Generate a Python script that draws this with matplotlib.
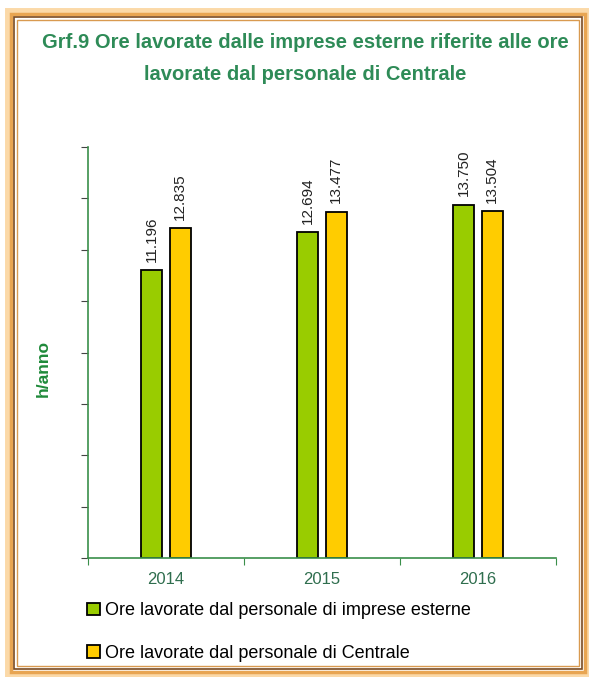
import matplotlib.pyplot as plt
from matplotlib.patches import Rectangle
import numpy as np

years = ["2014", "2015", "2016"]
esterne = [11196, 12694, 13750]
centrale = [12835, 13477, 13504]
labels_esterne = ["11.196", "12.694", "13.750"]
labels_centrale = ["12.835", "13.477", "13.504"]

green = "#99cc00"
yellow = "#ffcc00"
axis_green = "#3a8f4a"
text_green = "#2e8b57"

plt.rcParams["font.family"] = ["Liberation Sans", "DejaVu Sans"]

fig = plt.figure(figsize=(5.89, 6.77), dpi=100)
W, H = 589, 677

# frame
def px(x0, y0, x1, y1):
    return (x0 / W, 1 - y1 / H), (x1 - x0) / W, (y1 - y0) / H

for (x0, y0, x1, y1, lw, col) in [
    (8, 11, 588, 675, 5, "#fbd9a8"),
    (11, 14, 585, 672, 2.5, "#e8a552"),
    (14, 17, 582, 669, 1.2, "#7a4a20"),
    (17, 20, 579, 666, 1.0, "#d99a50"),
]:
    xy, w, h = px(x0, y0, x1, y1)
    fig.patches.append(Rectangle(xy, w, h, transform=fig.transFigure,
                                 fill=False, edgecolor=col, linewidth=lw))

ax = fig.add_axes([88 / W, 1 - 558 / H, (556 - 88) / W, (558 - 147) / H])
x = np.arange(len(years))
bw = 0.135
gap = 0.045
b1 = ax.bar(x - (bw + gap) / 2, esterne, bw, color=green, edgecolor="black", linewidth=1.3)
b2 = ax.bar(x + (bw + gap) / 2, centrale, bw, color=yellow, edgecolor="black", linewidth=1.3)

for bars, labs in [(b1, labels_esterne), (b2, labels_centrale)]:
    for rect, lab in zip(bars, labs):
        ax.annotate(lab, (rect.get_x() + rect.get_width() / 2, rect.get_height()),
                    xytext=(0, 6), textcoords="offset points", rotation=90,
                    ha="center", va="bottom", fontsize=11, color="#222222")

ax.set_xlim(-0.5, 2.5)
ax.set_ylim(0, 16000)
ax.set_yticks(np.arange(0, 16001, 2000))
ax.set_yticklabels([])
ax.set_xticks([-0.5, 0.5, 1.5, 2.5], minor=False)
ax.set_xticklabels([])
ax.set_xticks(x, minor=True)
ax.set_xticklabels(years, minor=True, fontsize=12, color="#2f6e4e")
ax.tick_params(axis="x", which="minor", length=0, pad=10)
ax.tick_params(axis="x", which="major", length=5, color=axis_green, direction="out")
ax.tick_params(axis="y", length=5, color="#444444", direction="out")
for s in ["top", "right"]:
    ax.spines[s].set_visible(False)
for s in ["left", "bottom"]:
    ax.spines[s].set_color(axis_green)
    ax.spines[s].set_linewidth(1.2)

ax.set_ylabel("h/anno", fontsize=12.5, fontweight="bold", color="#1f8a3a")
ax.yaxis.set_label_coords(-0.08, 0.46)

fig.text(305 / W, 1 - 43 / H, "Grf.9 Ore lavorate dalle imprese esterne riferite alle ore",
         ha="center", va="center", fontsize=14.5, fontweight="bold", color=text_green)
fig.text(305 / W, 1 - 74 / H, "lavorate dal personale di Centrale",
         ha="center", va="center", fontsize=14.5, fontweight="bold", color=text_green)

handles = [
    Rectangle((0, 0), 1, 1, facecolor=green, edgecolor="black", linewidth=1.3),
    Rectangle((0, 0), 1, 1, facecolor=yellow, edgecolor="black", linewidth=1.3),
]
fig.legend(handles, ["Ore lavorate dal personale di imprese esterne",
                     "Ore lavorate dal personale di Centrale"],
           loc="upper left", bbox_to_anchor=(80 / W, 1 - 595 / H), frameon=False,
           fontsize=13, handlelength=0.7, handleheight=0.7, handletextpad=0.3,
           labelspacing=1.4, borderaxespad=0)

fig.savefig("out.png", dpi=100)
